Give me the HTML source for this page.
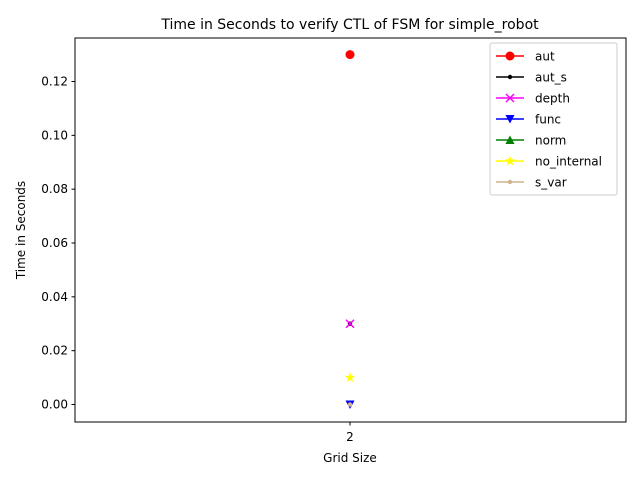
<!DOCTYPE html>
<html><head><meta charset="utf-8"><style>
body{margin:0;background:#fff;font-family:"Liberation Sans","DejaVu Sans",sans-serif}
svg text{font-family:"DejaVu Sans","Liberation Sans",sans-serif}
</style></head><body>
<svg id="c" width="640" height="480" xmlns="http://www.w3.org/2000/svg">
<rect x="0" y="0" width="640" height="480" fill="#fff"/>
<text x="350" y="29" font-size="14" text-anchor="middle">Time in Seconds to verify CTL of FSM for simple_robot</text>
<g id="axes"></g>
<g id="marks"></g>
<rect x="75" y="38" width="551" height="384" fill="none" stroke="#000" stroke-width="1"/>
<text x="350" y="462" font-size="12" text-anchor="middle">Grid Size</text>
<text x="25" y="230" font-size="12" text-anchor="middle" transform="rotate(-90 25 230)">Time in Seconds</text>
<g id="legend"></g>
</svg>
<script>
const categories=["2"];
const seriesNames=["aut","aut_s","depth","func","norm","no_internal","s_var"];
const seriesValues=[[0.13],[0.03],[0.03],[0.0],[null],[0.01],[0.0]];
const yTicks=[0,0.02,0.04,0.06,0.08,0.10,0.12];
const yTickLabels=["0.00","0.02","0.04","0.06","0.08","0.10","0.12"];
const colors=["red","black","magenta","blue","green","yellow","tan"];
const markers=["o",".","x","v","^","*","."];
const NS="http://www.w3.org/2000/svg";
function y(v){return 404.5-v*(323/0.12);}
function x(i){return 350+i*100;}
function mk(t,a){const e=document.createElementNS(NS,t);for(const k in a)e.setAttribute(k,a[k]);return e;}
const axes=document.getElementById('axes');
yTicks.forEach((t,i)=>{
  const l=mk('line',{x1:71.5,x2:75,y1:y(t),y2:y(t),stroke:'#000'});
  
  
  axes.appendChild(l);
  const tx=mk('text',{x:68,y:y(t)+4,'font-size':12,'text-anchor':'end'});
  tx.textContent=yTickLabels[i];
  
  
  axes.appendChild(tx);
});
categories.forEach((c,i)=>{
  const l=mk('line',{x1:x(i),x2:x(i),y1:422,y2:425.5,stroke:'#000'});
  
  
  axes.appendChild(l);
  const tx=mk('text',{x:x(i),y:441,'font-size':12,'text-anchor':'middle'});
  tx.textContent=c;
  
  
  axes.appendChild(tx);
});
function marker(g,m,cx,cy,col){
  let e;
  if(m==='o')e=mk('circle',{cx,cy,r:4.5,fill:col});
  else if(m==='.')e=mk('circle',{cx,cy,r:2.2,fill:col});
  else if(m==='x')e=mk('path',{d:`M${cx-4},${cy-4}L${cx+4},${cy+4}M${cx-4},${cy+4}L${cx+4},${cy-4}`,stroke:col,'stroke-width':1.5,fill:'none'});
  else if(m==='v')e=mk('path',{d:`M${cx-4.5},${cy-4}L${cx+4.5},${cy-4}L${cx},${cy+4.5}Z`,fill:col});
  else if(m==='^')e=mk('path',{d:`M${cx-4.5},${cy+4}L${cx+4.5},${cy+4}L${cx},${cy-4.5}Z`,fill:col});
  else if(m==='*'){let p='';for(let k=0;k<10;k++){const r=k%2?2.2:5.5,a=-Math.PI/2+k*Math.PI/5;p+=(k?'L':'M')+(cx+r*Math.cos(a))+','+(cy+r*Math.sin(a));}e=mk('path',{d:p+'Z',fill:col});}
  g.appendChild(e);return e;
}
const marks=document.getElementById('marks');
seriesValues.forEach((vals,s)=>{
  const g=mk('g',{});
  
  
  vals.forEach((v,i)=>{
    if(v===null)return;
    const e=marker(g,markers[s],x(i),y(v),colors[s]);
    
    
  });
  marks.appendChild(g);
});
const lg=document.getElementById('legend');
const box=mk('rect',{x:490,y:43,width:127,height:152,fill:'#fff',stroke:'#ccc',rx:2});


lg.appendChild(box);
seriesNames.forEach((n,s)=>{
  const yy=56+s*21;
  const g=mk('g',{});
  
  
  g.appendChild(mk('line',{x1:496,x2:524,y1:yy,y2:yy,stroke:colors[s],'stroke-width':1.5}));
  marker(g,markers[s],510,yy,colors[s]);
  const t=mk('text',{x:535,y:yy+4.5,'font-size':12});
  t.textContent=n;
  g.appendChild(t);
  lg.appendChild(g);
});
</script>
</body></html>
